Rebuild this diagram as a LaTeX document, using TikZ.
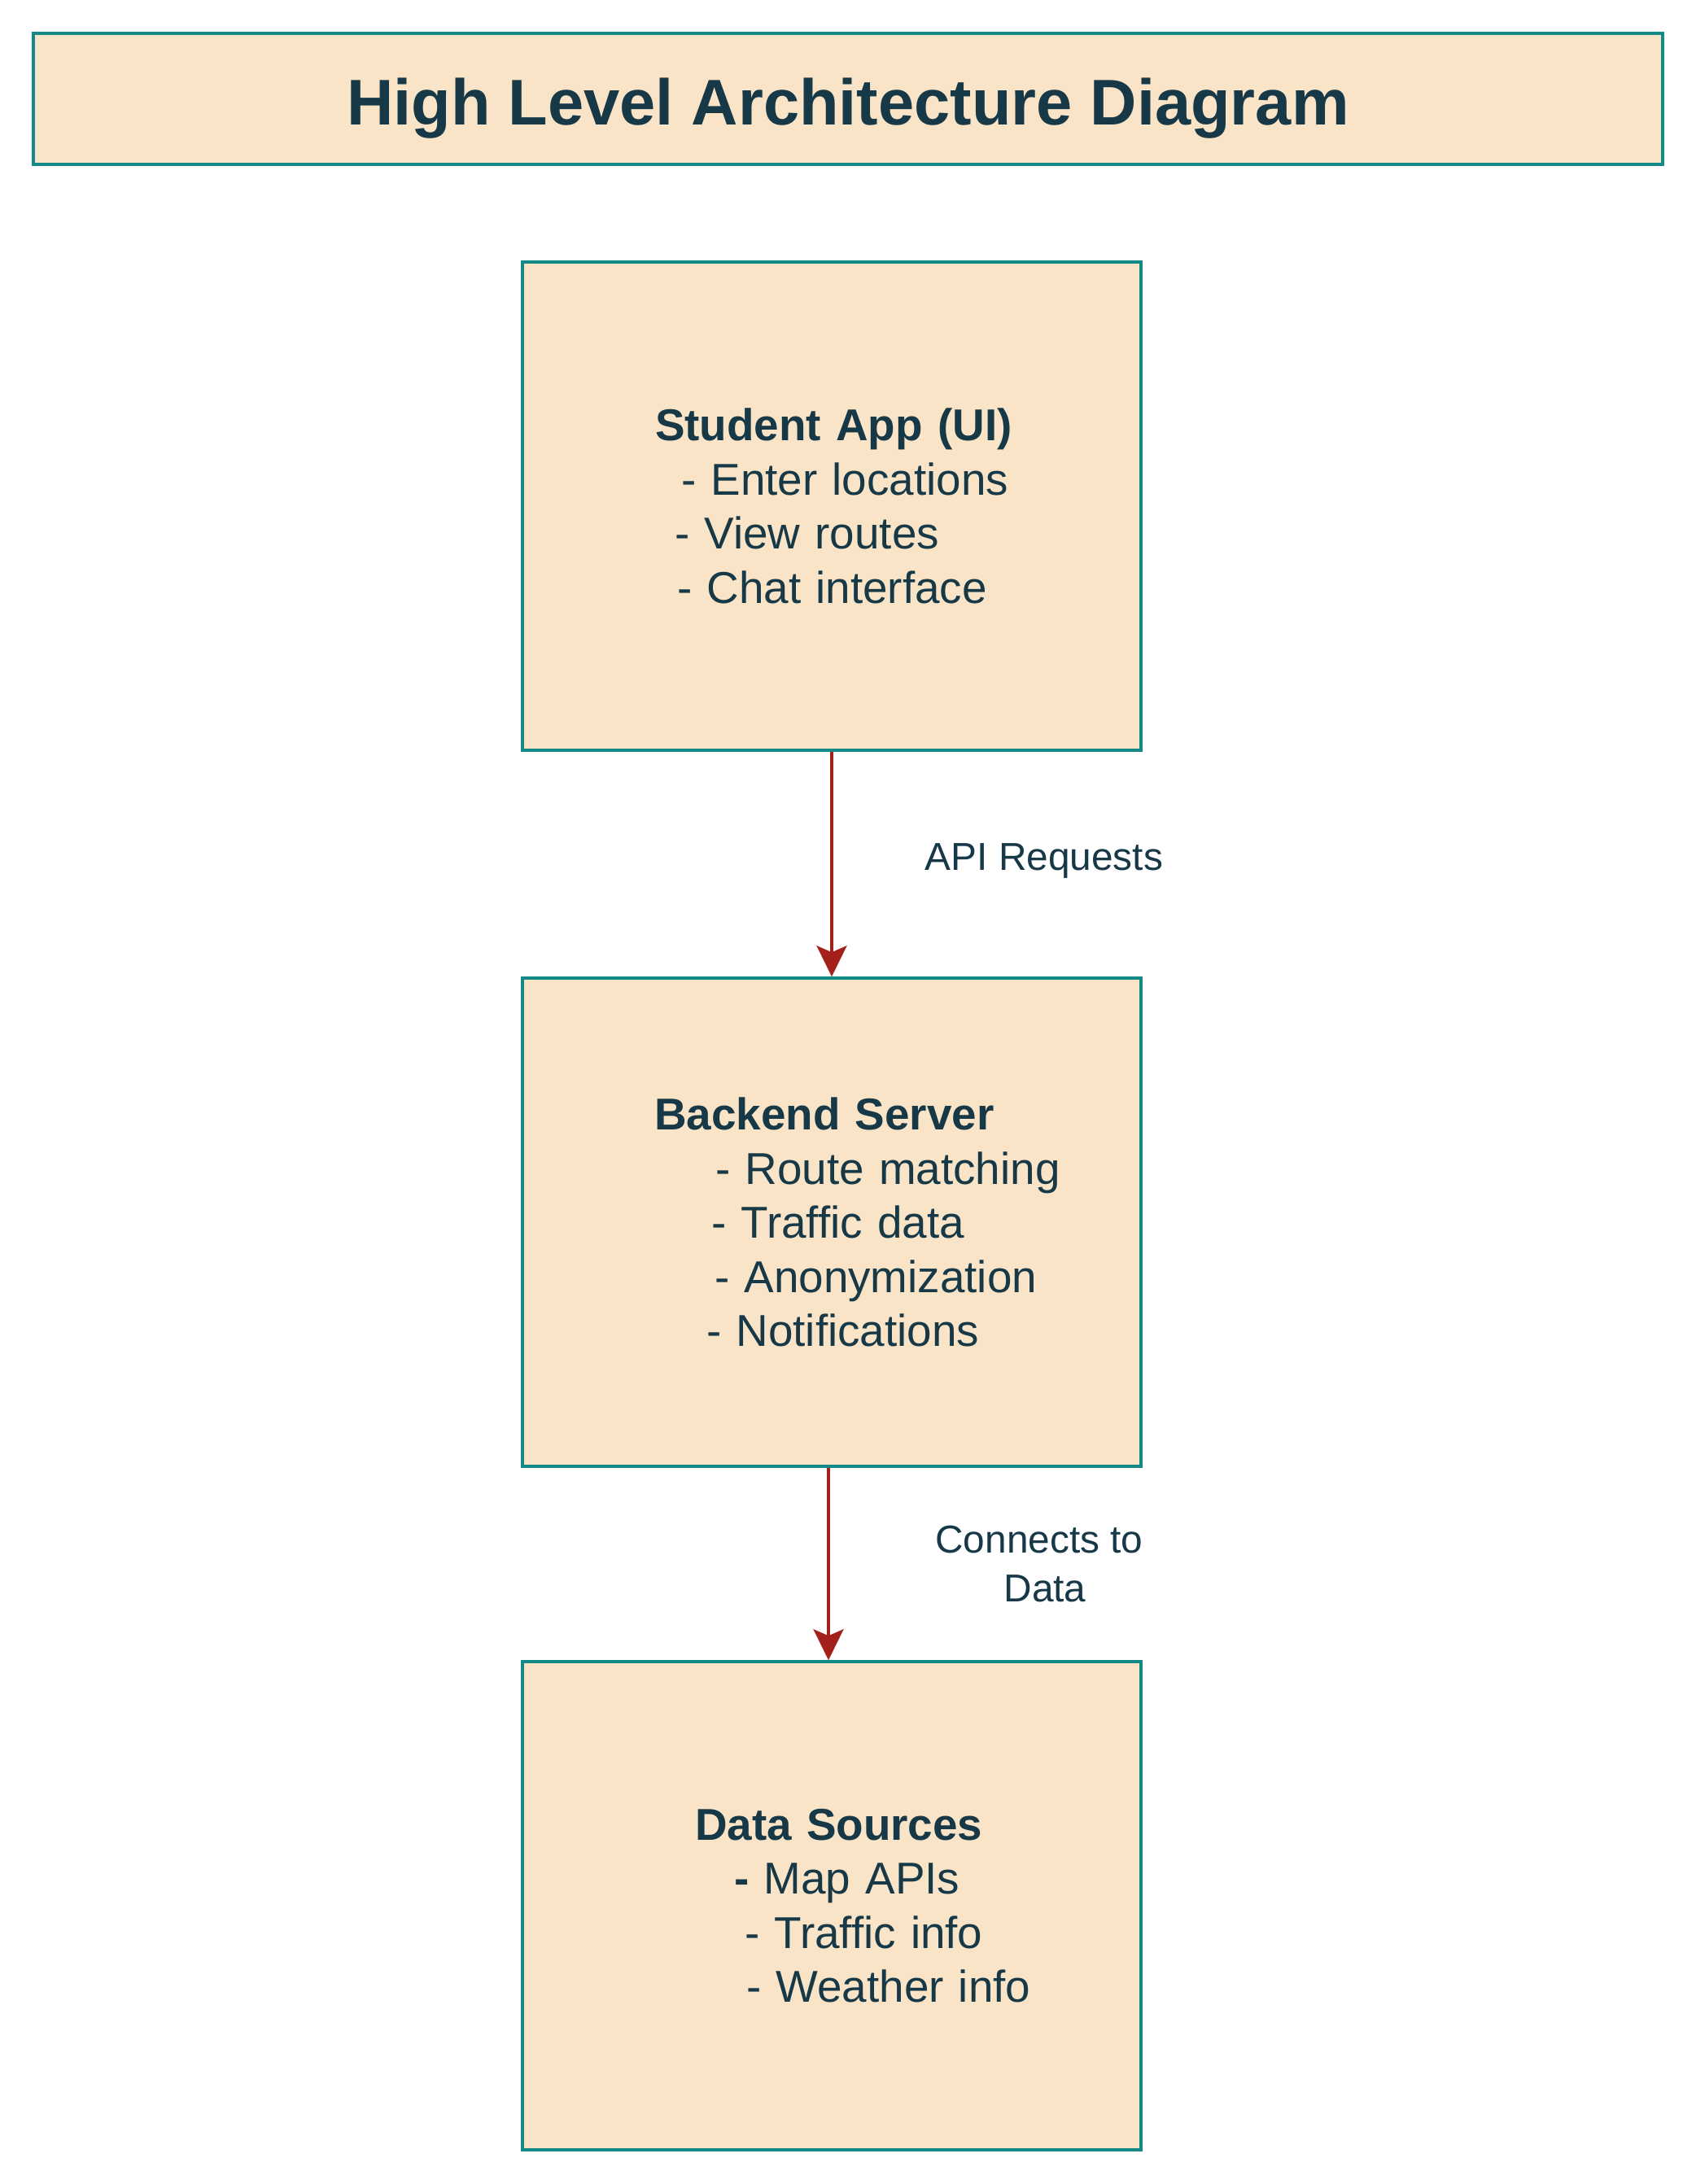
\documentclass[tikz,border=0pt]{standalone}
\usepackage{fontspec}
\setmainfont{Liberation Sans}
\usetikzlibrary{arrows.meta, positioning, calc}
\definecolor{cpeach}{HTML}{FAE4C7}
\definecolor{cteal}{HTML}{138A87}
\definecolor{cink}{HTML}{163847}
\definecolor{cred}{HTML}{A3201B}
\tikzset{
  every picture/.style={line width=1pt},
  block/.style={draw=cteal, fill=cpeach, line width=1pt, inner sep=0pt, text width=7.6cm, minimum height=6cm, align=left, text=cink, font=\fontsize{15.6}{18.9}\selectfont},
  flow/.style={-{Stealth[length=3.8mm, width=3.7mm, inset=0.8mm]}, draw=cred, line width=1pt},
  heading/.style={draw=cteal, fill=cpeach, line width=1pt, font=\fontsize{22.6}{27}\selectfont\bfseries, text=cink},
  tag/.style={font=\fontsize{13.6}{17.1}\selectfont, text=cink, align=center},
}

\begin{document}
\begin{tikzpicture}
  \useasboundingbox (0,0) rectangle (20.84,-26.84);
  \node[heading, minimum width=20.02cm, minimum height=1.61cm] (title) at (10.42,-1.215) {};
  \node[heading, draw=none, fill=none, yshift=-1.2mm] (titletext) at (title.center) {High Level Architecture Diagram};
  \node[block] (app) at (10.22,-6.22) {\hspace*{1.63cm}\textbf{Student App (UI)}\\
    \hspace*{1.95cm}- Enter locations\\
    \hspace*{1.87cm}- View routes\\
    \hspace*{1.90cm}- Chat interface};
  \node[block] (srv) at (10.22,-15.02) {\hspace*{1.62cm}\textbf{Backend Server}\\
    \hspace*{2.37cm}- Route matching\\
    \hspace*{2.32cm}- Traffic data\\
    \hspace*{2.36cm}- Anonymization\\
    \hspace*{2.26cm}- Notifications};
  \node[block] (src) at (10.22,-23.42) {\hspace*{2.12cm}\textbf{Data Sources}\\
    \hspace*{2.60cm}\textbf{-} Map APIs\\
    \hspace*{2.73cm}- Traffic info\\
    \hspace*{2.75cm}- Weather info};
  \draw[flow] (app.south) -- node[tag, xshift=2.61cm, yshift=0.4mm] (req) {API Requests} (srv.north);
  \draw[flow] ([xshift=-0.4mm]srv.south) -- node[tag, xshift=2.59cm] (conn) {Connects to\\\hspace*{0.14cm}Data} ([xshift=-0.4mm]src.north);
\end{tikzpicture}
\end{document}
